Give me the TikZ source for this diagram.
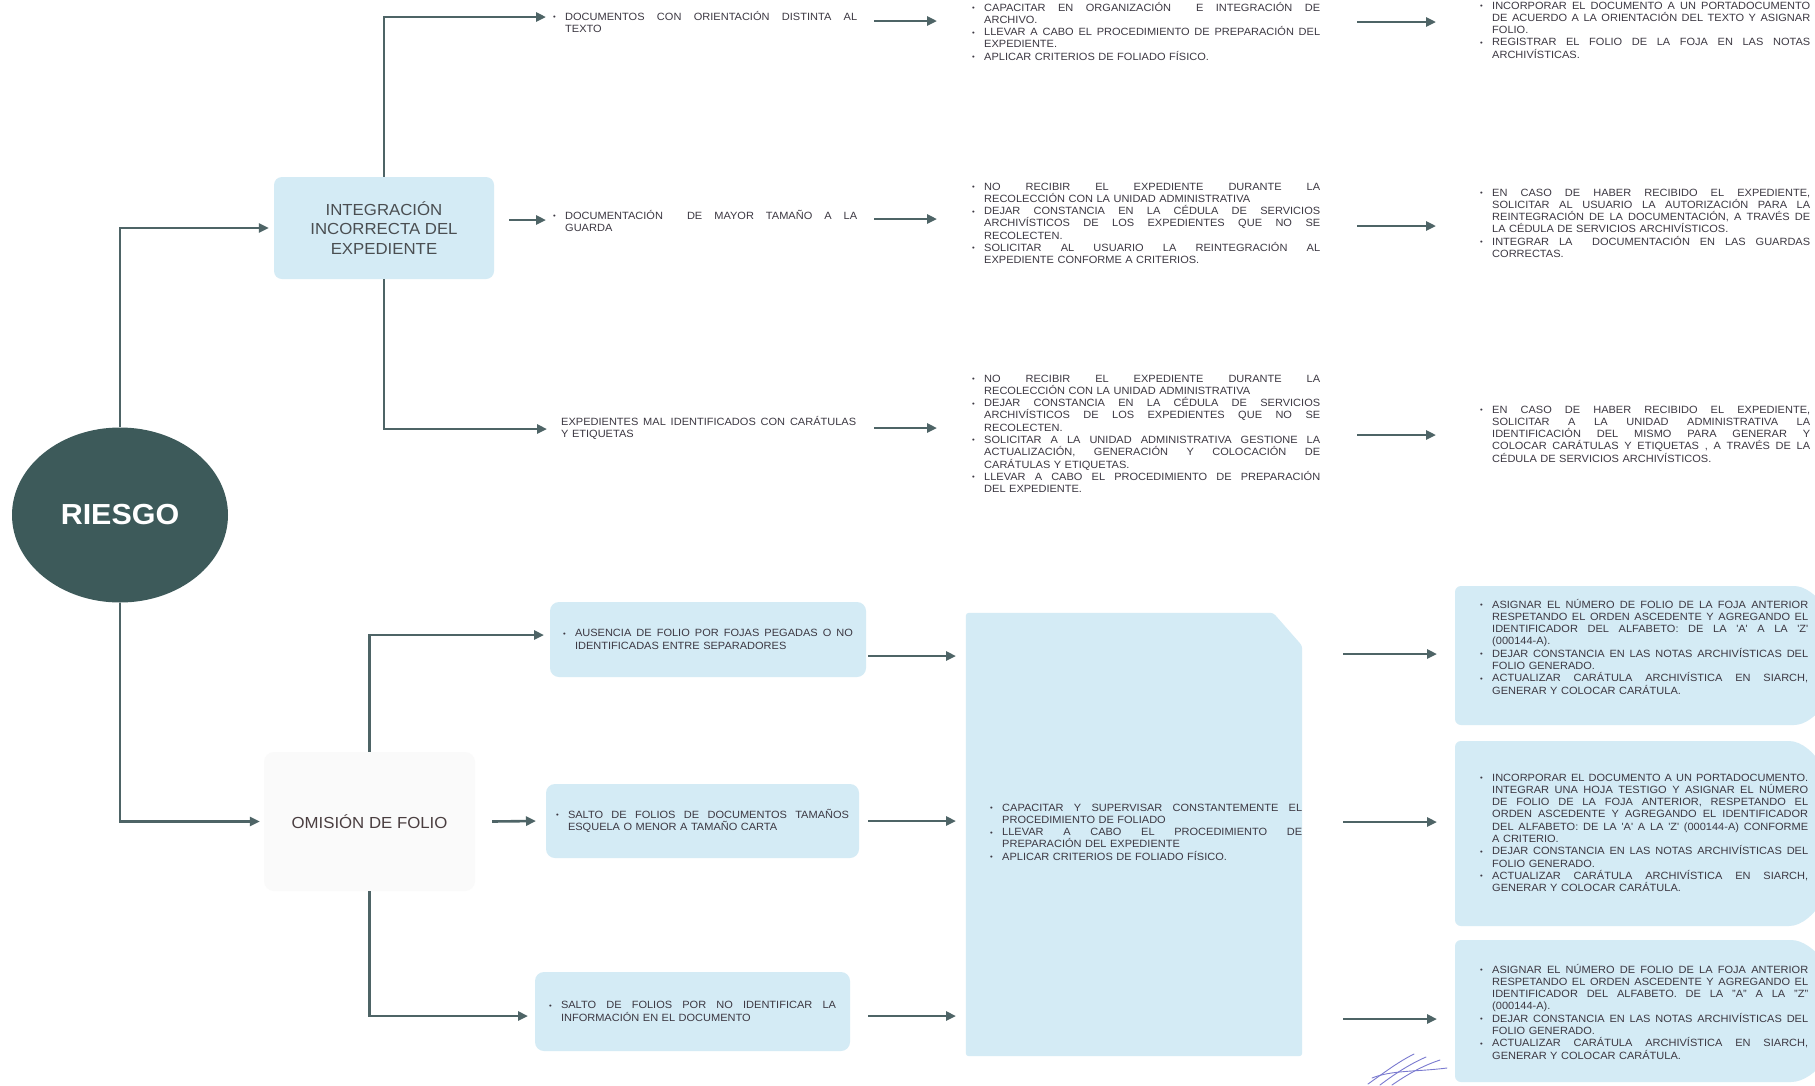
\documentclass[tikz,border=0pt]{standalone}
\usepackage{fontspec}
\setmainfont{Liberation Sans}[FakeStretch=1.05]
\usetikzlibrary{arrows.meta,shapes.geometric}
\definecolor{boxc}{HTML}{D4EBF5}
\definecolor{linec}{HTML}{4E6466}
\definecolor{ellc}{HTML}{3D5A5A}
\definecolor{txtc}{HTML}{3C3842}
\definecolor{ttlc}{HTML}{4A4E51}
\definecolor{omc}{HTML}{FAFAFA}
\definecolor{omtxt}{HTML}{4A3E40}
\definecolor{sigc}{HTML}{7A7AD0}
\newlength\bw
\setlength\bw{12pt}
\newcommand\bodyfont{\fontsize{10.5}{12.3}\selectfont}
\newcommand\bul{\raisebox{0.6pt}{\scalebox{0.7}{\textbullet}}}
\newcommand\jbox[2]{\hbox to #1{\spaceskip=0.28em plus 1fil\relax #2}}
\newcommand\lbox[2]{\hbox to #1{#2\hfil}}
\newcommand\xBJ[1]{\noindent\makebox[\bw][l]{\bul}\jbox{\dimexpr\linewidth-\bw\relax}{#1}\par}
\newcommand\xBL[1]{\noindent\makebox[\bw][l]{\bul}\lbox{\dimexpr\linewidth-\bw\relax}{#1}\par}
\newcommand\xIJ[1]{\noindent\hspace*{\bw}\jbox{\dimexpr\linewidth-\bw\relax}{#1}\par}
\newcommand\xIL[1]{\noindent\hspace*{\bw}\lbox{\dimexpr\linewidth-\bw\relax}{#1}\par}
\newcommand\xNJ[1]{\noindent\jbox{\linewidth}{#1}\par}
\newcommand\xNL[1]{\noindent\lbox{\linewidth}{#1}\par}
\newcommand\sq[1]{\textquotesingle#1\textquotesingle}
\tikzset{
  conn/.style={draw=linec, line width=2.6pt, -{Triangle[length=10pt,width=9pt]}},
  txt/.style={anchor=base west, inner sep=0pt, text=txtc, font=\bodyfont},
  lbx/.style={fill=boxc, rounded corners=9pt, text=txtc, font=\bodyfont, anchor=center},
  ttl/.style={text=ttlc, font=\fontsize{16}{19.5}\selectfont, align=center, inner sep=0pt},
  sig/.style={draw=sigc, line width=0.9pt, line cap=round}
}
\begin{document}
\begin{tikzpicture}[x=1pt, y=-1pt]
\useasboundingbox (0,0) rectangle (1815,1085);
\fill[white] (0,0) rectangle (1815,1085);

% ---------- left part ----------
\node[ellipse, fill=ellc, minimum width=216pt, minimum height=175pt, inner sep=0pt,
      text=white, font=\fontsize{29}{34}\selectfont\bfseries] (riesgo) at (120,515) {RIESGO};

\node[ttl, fill=boxc, rounded corners=8pt, minimum width=220pt, minimum height=102pt] (integ) at (384,228)
  {INTEGRACIÓN\\INCORRECTA DEL\\EXPEDIENTE};

\node[ttl, fill=omc, rounded corners=10pt, minimum width=211pt, minimum height=139pt, text=omtxt] (omision) at (369.5,821.5)
  {OMISIÓN DE FOLIO};

% ---------- column 2, upper ----------
\node[txt, text width=304pt] (t1) at (553,20)
  {\xBJ{DOCUMENTOS CON ORIENTACIÓN DISTINTA AL}\xIL{TEXTO}};
\node[txt, text width=304pt] (t2) at (553,219)
  {\xBJ{DOCUMENTACIÓN\ \ DE MAYOR TAMAÑO A LA}\xIL{GUARDA}};
\node[txt, text width=295pt] (t3) at (561,425)
  {\xNJ{EXPEDIENTES MAL IDENTIFICADOS CON CARÁTULAS}\xNL{Y ETIQUETAS}};

% ---------- column 2, lower ----------
\node[lbx, text width=290pt, minimum width=316pt, minimum height=75pt, inner xsep=13pt] (b4) at (708,639.5)
  {\xBJ{AUSENCIA DE FOLIO POR FOJAS PEGADAS O NO}\xIL{IDENTIFICADAS ENTRE SEPARADORES}};
\node[lbx, text width=293pt, minimum width=313pt, minimum height=74pt, inner xsep=10pt] (b5) at (702.5,821)
  {\xBJ{SALTO DE FOLIOS DE DOCUMENTOS TAMAÑOS}\xIL{ESQUELA O MENOR A TAMAÑO CARTA}};
\node[lbx, text width=287pt, minimum width=315pt, minimum height=79pt, inner xsep=14pt] (b6) at (692.5,1011.5)
  {\xBJ{SALTO DE FOLIOS POR NO IDENTIFICAR LA}\xIL{INFORMACIÓN EN EL DOCUMENTO}};

% ---------- column 3 ----------
\node[txt, text width=348pt] (c1) at (972,11)
  {\xBJ{CAPACITAR EN ORGANIZACIÓN\ \ E INTEGRACIÓN DE}\xIL{ARCHIVO.}%
   \xBJ{LLEVAR A CABO EL PROCEDIMIENTO DE PREPARACIÓN DEL}\xIL{EXPEDIENTE.}%
   \xBL{APLICAR CRITERIOS DE FOLIADO FÍSICO.}};
\node[txt, text width=348pt] (c2) at (972,190)
  {\xBJ{NO RECIBIR EL EXPEDIENTE DURANTE LA}\xIL{RECOLECCIÓN CON LA UNIDAD ADMINISTRATIVA}%
   \xBJ{DEJAR CONSTANCIA EN LA CÉDULA DE SERVICIOS}\xIJ{ARCHIVÍSTICOS DE LOS EXPEDIENTES QUE NO SE}\xIL{RECOLECTEN.}%
   \xBJ{SOLICITAR AL USUARIO LA REINTEGRACIÓN AL}\xIL{EXPEDIENTE CONFORME A CRITERIOS.}};
\node[txt, text width=348pt] (c3) at (972,382)
  {\xBJ{NO RECIBIR EL EXPEDIENTE DURANTE LA}\xIL{RECOLECCIÓN CON LA UNIDAD ADMINISTRATIVA}%
   \xBJ{DEJAR CONSTANCIA EN LA CÉDULA DE SERVICIOS}\xIJ{ARCHIVÍSTICOS DE LOS EXPEDIENTES QUE NO SE}\xIL{RECOLECTEN.}%
   \xBJ{SOLICITAR A LA UNIDAD ADMINISTRATIVA GESTIONE LA}\xIJ{ACTUALIZACIÓN, GENERACIÓN Y COLOCACIÓN DE}\xIL{CARÁTULAS Y ETIQUETAS.}%
   \xBJ{LLEVAR A CABO EL PROCEDIMIENTO DE PREPARACIÓN}\xIL{DEL EXPEDIENTE.}};

\node[minimum width=336pt, minimum height=443pt, inner sep=0pt] (big) at (1134,834.5) {};
\fill[boxc, rounded corners=3pt] (big.north west) -- ([xshift=-29pt]big.north east) -- ([yshift=-33pt]big.north east)
  -- (big.south east) -- (big.south west) -- cycle;
\node[txt, text width=312pt] (bigtxt) at (990,811)
  {\xBJ{CAPACITAR Y SUPERVISAR CONSTANTEMENTE EL}\xIL{PROCEDIMIENTO DE FOLIADO}%
   \xBJ{LLEVAR A CABO EL PROCEDIMIENTO DE}\xIL{PREPARACIÓN DEL EXPEDIENTE}%
   \xBL{APLICAR CRITERIOS DE FOLIADO FÍSICO.}};

% ---------- column 4 ----------
\node[txt, text width=330pt] (d1) at (1480,9)
  {\xBJ{INCORPORAR EL DOCUMENTO A UN PORTADOCUMENTO}\xIJ{DE ACUERDO A LA ORIENTACIÓN DEL TEXTO Y ASIGNAR}\xIL{FOLIO.}%
   \xBJ{REGISTRAR EL FOLIO DE LA FOJA EN LAS NOTAS}\xIL{ARCHIVÍSTICAS.}};
\node[txt, text width=330pt] (d2) at (1480,196)
  {\xBJ{EN CASO DE HABER RECIBIDO EL EXPEDIENTE,}\xIJ{SOLICITAR AL USUARIO LA AUTORIZACIÓN PARA LA}%
   \xIJ{REINTEGRACIÓN DE LA DOCUMENTACIÓN, A TRAVÉS DE}\xIL{LA CÉDULA DE SERVICIOS ARCHIVÍSTICOS.}%
   \xBJ{INTEGRAR LA\ \ DOCUMENTACIÓN EN LAS GUARDAS}\xIL{CORRECTAS.}};
\node[txt, text width=330pt] (d3) at (1480,413)
  {\xBJ{EN CASO DE HABER RECIBIDO EL EXPEDIENTE,}\xIJ{SOLICITAR A LA UNIDAD ADMINISTRATIVA LA}%
   \xIJ{IDENTIFICACIÓN DEL MISMO PARA GENERAR Y}\xIJ{COLOCAR CARÁTULAS Y ETIQUETAS , A TRAVÉS DE LA}%
   \xIL{CÉDULA DE SERVICIOS ARCHIVÍSTICOS.}};

\begin{scope}
\clip (0,0) rectangle (1815,1085);
\fill[boxc, rounded corners=6pt] (1455,586) -- (1788,586) .. controls (1815,586) and (1840,620) .. (1840,655.5)
  .. controls (1840,691) and (1815,725) .. (1788,725) -- (1455,725) -- cycle;
\fill[boxc, rounded corners=6pt] (1455,741) -- (1783,741) .. controls (1815,741) and (1842,790) .. (1842,833.5)
  .. controls (1842,877) and (1815,926) .. (1783,926) -- (1455,926) -- cycle;
\fill[boxc, rounded corners=6pt] (1455,940) -- (1785,940) .. controls (1815,940) and (1842,980) .. (1842,1011)
  .. controls (1842,1045) and (1815,1082) .. (1785,1082) -- (1455,1082) -- cycle;
\end{scope}

\node[txt, text width=328pt] (e4) at (1480,608)
  {\xBJ{ASIGNAR EL NÚMERO DE FOLIO DE LA FOJA ANTERIOR}\xIJ{RESPETANDO EL ORDEN ASCEDENTE Y AGREGANDO EL}%
   \xIJ{IDENTIFICADOR DEL ALFABETO: DE LA \sq{A} A LA \sq{Z}}\xIL{(000144-A).}%
   \xBJ{DEJAR CONSTANCIA EN LAS NOTAS ARCHIVÍSTICAS DEL}\xIL{FOLIO GENERADO.}%
   \xBJ{ACTUALIZAR CARÁTULA ARCHIVÍSTICA EN SIARCH,}\xIL{GENERAR Y COLOCAR CARÁTULA.}};
\node[txt, text width=328pt] (e5) at (1480,781)
  {\xBJ{INCORPORAR EL DOCUMENTO A UN PORTADOCUMENTO.}\xIJ{INTEGRAR UNA HOJA TESTIGO Y ASIGNAR EL NÚMERO}%
   \xIJ{DE FOLIO DE LA FOJA ANTERIOR, RESPETANDO EL}\xIJ{ORDEN ASCEDENTE Y AGREGANDO EL IDENTIFICADOR}%
   \xIJ{DEL ALFABETO: DE LA \sq{A} A LA \sq{Z} (000144-A) CONFORME}\xIL{A CRITERIO.}%
   \xBJ{DEJAR CONSTANCIA EN LAS NOTAS ARCHIVÍSTICAS DEL}\xIL{FOLIO GENERADO.}%
   \xBJ{ACTUALIZAR CARÁTULA ARCHIVÍSTICA EN SIARCH,}\xIL{GENERAR Y COLOCAR CARÁTULA.}};
\node[txt, text width=328pt] (e6) at (1480,973)
  {\xBJ{ASIGNAR EL NÚMERO DE FOLIO DE LA FOJA ANTERIOR}\xIJ{RESPETANDO EL ORDEN ASCEDENTE Y AGREGANDO EL}%
   \xIJ{IDENTIFICADOR DEL ALFABETO. DE LA "A" A LA "Z"}\xIL{(000144-A).}%
   \xBJ{DEJAR CONSTANCIA EN LAS NOTAS ARCHIVÍSTICAS DEL}\xIL{FOLIO GENERADO.}%
   \xBJ{ACTUALIZAR CARÁTULA ARCHIVÍSTICA EN SIARCH,}\xIL{GENERAR Y COLOCAR CARÁTULA.}};

% ---------- arrow end points ----------
\coordinate (t1in) at (546,17);
\coordinate (t2in) at (546,220);
\coordinate (t3in) at (547,429);
\coordinate (c1in) at (937,21);
\coordinate (c2in) at (937,219);
\coordinate (c3in) at (937,428);
\coordinate (d1in) at (1436,22);
\coordinate (d2in) at (1436,226);
\coordinate (d3in) at (1436,435);
\coordinate (b4in) at (544,635);
\coordinate (b5in) at (536,821);
\coordinate (b6in) at (528,1016);
\coordinate (g4in) at (956,656);
\coordinate (g5in) at (956,821);
\coordinate (g6in) at (956,1016);
\coordinate (e4in) at (1437,654);
\coordinate (e5in) at (1437,822);
\coordinate (e6in) at (1437,1019);

% ---------- connectors ----------
\draw[conn, shorten >=5pt] (riesgo.north) |- (integ.west);
\draw[conn, shorten >=4pt] (riesgo.south) |- (omision.west);
\draw[conn] (integ.north) |- (t1in);
\draw[conn] (integ.east |- t2in) ++(15,0) -- (t2in);
\draw[conn] (integ.south) |- (t3in);
\draw[conn] (t1.east |- c1in) ++(17,0) -- (c1in);
\draw[conn] (t2.east |- c2in) ++(17,0) -- (c2in);
\draw[conn] (t3.east |- c3in) ++(18,0) -- (c3in);
\draw[conn] (c1.east |- d1in) ++(37,0) -- (d1in);
\draw[conn] (c2.east |- d2in) ++(37,0) -- (d2in);
\draw[conn] (c3.east |- d3in) ++(37,0) -- (d3in);
\draw[conn] (omision.north) |- (b4in);
\draw[conn] (omision.east) ++(17,0) -- (b5in);
\draw[conn] (omision.south) |- (b6in);
\draw[conn] (b4.east |- g4in) ++(2,0) -- (g4in);
\draw[conn] (b5.east |- g5in) ++(9,0) -- (g5in);
\draw[conn] (b6.east |- g6in) ++(18,0) -- (g6in);
\draw[conn] (big.east |- e4in) ++(41,0) -- (e4in);
\draw[conn] (big.east |- e5in) ++(41,0) -- (e5in);
\draw[conn] (big.east |- e6in) ++(41,0) -- (e6in);

% ---------- signature strokes ----------
\draw[sig] (1368,1084) .. controls (1385,1072) and (1398,1062) .. (1414,1054);
\draw[sig] (1380,1085) .. controls (1396,1073) and (1410,1064) .. (1426,1057);
\draw[sig] (1392,1085) .. controls (1408,1074) and (1422,1066) .. (1440,1060);
\draw[sig] (1372,1078) .. controls (1392,1070) and (1415,1072) .. (1447,1068);
\end{tikzpicture}
\end{document}
